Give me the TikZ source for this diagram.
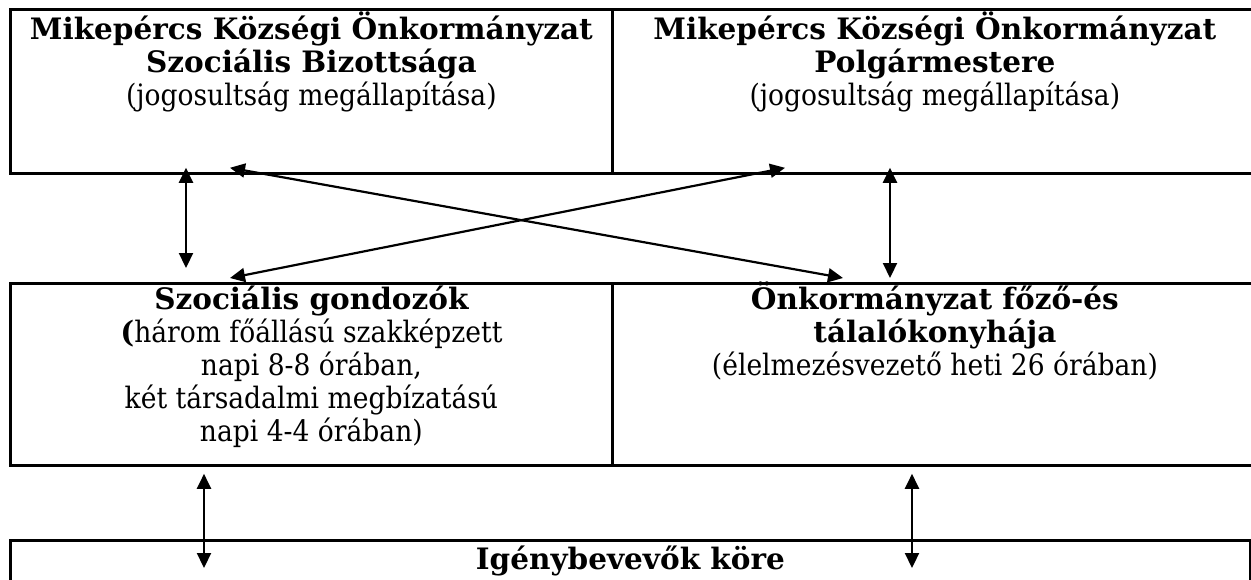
\documentclass[tikz,border=0pt]{standalone}
\usepackage{fontspec}
\setmainfont{DejaVu Serif}[FakeStretch=0.9]
\newfontfamily\boldfam{DejaVu Serif Bold}
\newcommand{\bx}[1]{{\boldfam #1}}
\usetikzlibrary{arrows.meta}
\begin{document}
\begin{tikzpicture}[x=1pt,y=-1pt,
  box/.style={draw, line width=2.8pt, inner sep=0pt, anchor=north west},
  txt/.style={align=center, inner sep=0pt, anchor=north, font=\fontsize{29.5}{33}\selectfont},
  arr/.style={{Triangle[length=15pt,width=14pt]}-{Triangle[length=15pt,width=14pt]}, line width=2.2pt}]
\useasboundingbox (0,0) rectangle (1251,579);
\clip (0,0) rectangle (1251,579);
% boxes
\node[box, minimum width=602pt, minimum height=164pt] (tl) at (9,8) {};
\node[box, minimum width=645pt, minimum height=164pt] (tr) at (611,8) {};
\node[box, minimum width=602pt, minimum height=182pt] (ml) at (9,282) {};
\node[box, minimum width=645pt, minimum height=182pt] (mr) at (611,282) {};
\node[box, minimum width=1240pt, minimum height=80pt] (bt) at (9,539) {};
% texts
\node[txt] (tltext) at ([yshift=0pt]tl.north) {\rule{0pt}{31pt}\bx{Mikepércs Községi Önkormányzat}\\\bx{Szociális Bizottsága}\\(jogosultság megállapítása)};
\node[txt] (trtext) at ([yshift=0pt]tr.north) {\rule{0pt}{31pt}\bx{Mikepércs Községi Önkormányzat}\\\bx{Polgármestere}\\(jogosultság megállapítása)};
\node[txt] (mltext) at ([yshift=4pt]ml.north) {\rule{0pt}{31pt}\bx{Szociális gondozók}\\\bx{(}három főállású szakképzett\\napi 8-8 órában,\\két társadalmi megbízatású\\napi 4-4 órában)};
\node[txt] (mrtext) at ([yshift=4pt]mr.north) {\rule{0pt}{31pt}\bx{Önkormányzat főző-és}\\\bx{tálalókonyhája}\\(élelmezésvezető heti 26 órában)};
\node[txt] (bttext) at ([yshift=1pt]bt.north) {\rule{0pt}{31pt}\bx{Igénybevevők köre}};
% connectors
\draw[arr] ([shift={(177,-7)}]tl.south west) -- ([shift={(177,-14)}]ml.north west);
\draw[arr] ([shift={(279,-7)}]tr.south west) -- ([shift={(279,-4)}]mr.north west);
\draw[arr] ([shift={(221,-7)}]tl.south west) -- ([shift={(232,-4)}]mr.north west);
\draw[arr] ([shift={(174,-7)}]tr.south west) -- ([shift={(221,-4)}]ml.north west);
\draw[arr] ([shift={(195,7)}]ml.south west) -- ([shift={(195,29)}]bt.north west);
\draw[arr] ([shift={(301,7)}]mr.south west) -- ([shift={(903,29)}]bt.north west);
\end{tikzpicture}
\end{document}
